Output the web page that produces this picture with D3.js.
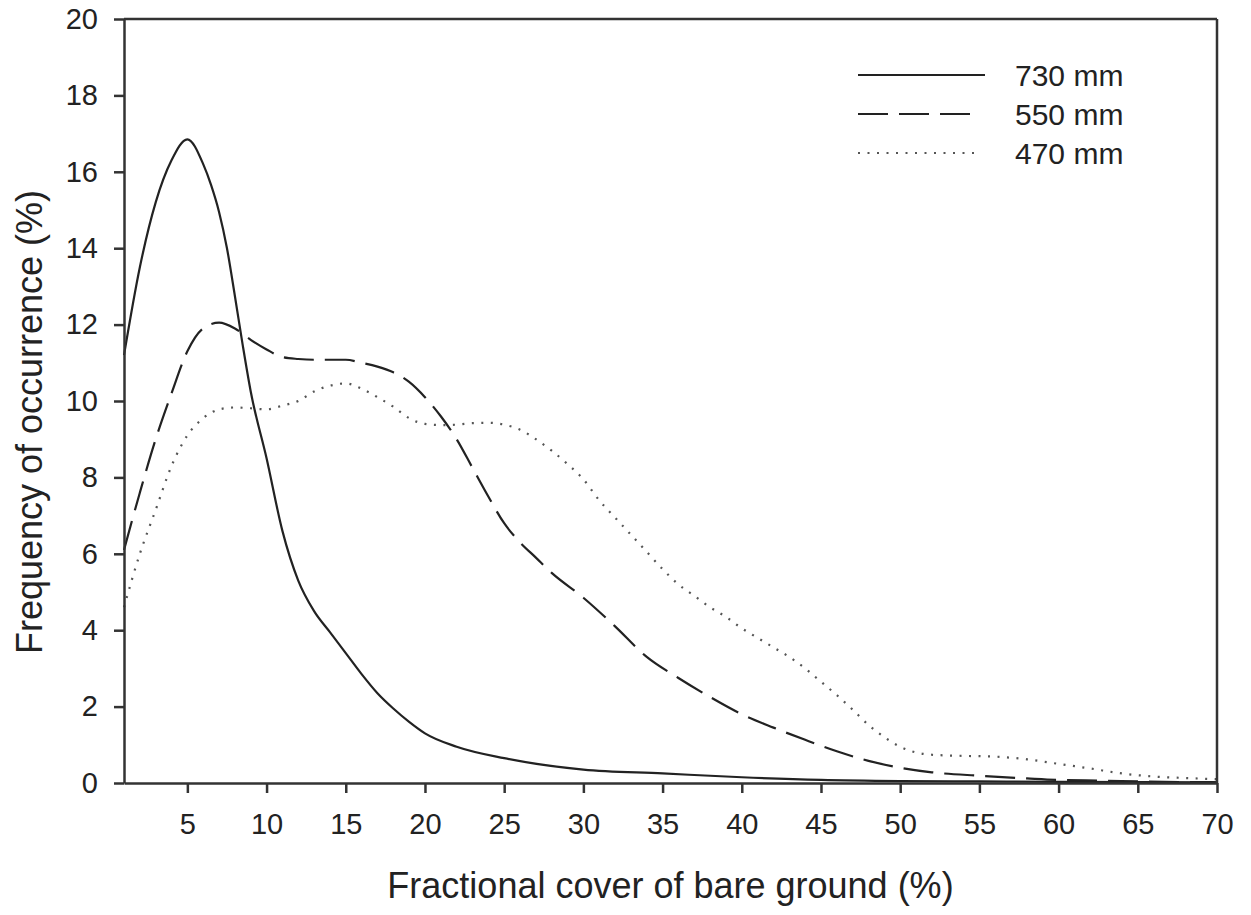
<!DOCTYPE html>
<html>
<head>
<meta charset="utf-8">
<script src="https://cdn.jsdelivr.net/npm/d3@7"></script>
<style>
  body { margin: 0; background: #fff; }
  text { font-family: "Liberation Sans", Arial, sans-serif; fill: #222; }
</style>
</head>
<body>
<script>
let w = 1251;
let h = 915;

let margin = { left: 124, right: 34, top: 19, bottom: 132 };

// bare ground cover (%) and frequency (%)
let x730 = [1, 2, 3, 4, 5, 6, 6.5, 7, 7.5, 8, 8.5, 9, 10, 11, 12, 13, 14, 15, 16, 17, 18, 19, 20, 22, 25, 30, 35, 40, 45, 50, 55, 60, 70];
let y730 = [11.2, 13.5, 15.2, 16.3, 16.85, 16.2, 15.65, 14.95, 14.0, 12.75, 11.45, 10.25, 8.5, 6.6, 5.3, 4.5, 3.95, 3.4, 2.85, 2.35, 1.95, 1.6, 1.3, 0.95, 0.65, 0.35, 0.25, 0.15, 0.08, 0.05, 0.04, 0.03, 0.02];

let x550 = [1, 2, 3, 4, 5, 6, 7, 8, 9, 10, 11, 12, 13, 14, 15, 16, 17, 18, 19, 20, 21, 22, 23, 24, 25, 26, 27, 28, 30, 32, 34, 36, 38, 40, 42, 44, 46, 48, 50, 52, 55, 58, 60, 63, 65, 70];
let y550 = [6.1, 7.6, 9.0, 10.2, 11.3, 11.9, 12.05, 11.9, 11.6, 11.35, 11.15, 11.1, 11.08, 11.08, 11.08, 11.0, 10.9, 10.75, 10.5, 10.1, 9.6, 9.0, 8.25, 7.5, 6.8, 6.3, 5.9, 5.5, 4.85, 4.1, 3.3, 2.75, 2.25, 1.8, 1.45, 1.13, 0.83, 0.58, 0.4, 0.28, 0.19, 0.12, 0.08, 0.06, 0.04, 0.02];

let x470 = [1, 2, 3, 4, 5, 6, 7, 8, 9, 10, 11, 12, 13, 14, 15, 16, 17, 18, 19, 20, 21, 22, 23, 24, 25, 26, 27, 28, 29, 30, 31, 32, 33, 34, 35, 36, 37, 38, 39, 40, 41, 42, 43, 44, 45, 46, 47, 48, 49, 50, 51, 52, 54, 56, 58, 60, 62, 64, 66, 68, 70];
let y470 = [4.6, 6.0, 7.15, 8.3, 9.1, 9.55, 9.78, 9.83, 9.81, 9.78, 9.88, 10.0, 10.25, 10.4, 10.46, 10.32, 10.1, 9.85, 9.55, 9.4, 9.37, 9.38, 9.42, 9.43, 9.38, 9.25, 9.0, 8.7, 8.35, 7.95, 7.4, 6.95, 6.5, 6.05, 5.6, 5.2, 4.9, 4.6, 4.35, 4.05, 3.8, 3.55, 3.3, 3.0, 2.65, 2.3, 1.92, 1.52, 1.2, 0.95, 0.8, 0.74, 0.71, 0.69, 0.62, 0.5, 0.38, 0.25, 0.17, 0.13, 0.1];

let seriesNames = ["730 mm", "550 mm", "470 mm"];
let xTicks = [5, 10, 15, 20, 25, 30, 35, 40, 45, 50, 55, 60, 65, 70];
let yTicks = [0, 2, 4, 6, 8, 10, 12, 14, 16, 18, 20];

let styles = [
  { stroke: "#222", width: 2.2, dash: null },
  { stroke: "#222", width: 2.2, dash: "30,11" },
  { stroke: "#555", width: 2.2, dash: "2,7.5" }
];

let series = [
  x730.map((x, i) => [x, y730[i]]),
  x550.map((x, i) => [x, y550[i]]),
  x470.map((x, i) => [x, y470[i]])
];

let svg = d3.select("body").append("svg").attr("width", w).attr("height", h);

let xScale = d3.scaleLinear().domain([1, 70]).range([margin.left, w - margin.right]);
let yScale = d3.scaleLinear().domain([0, 20]).range([h - margin.bottom, margin.top]);

let line = d3.line()
  .x((d) => xScale(d[0]))
  .y((d) => yScale(d[1]))
  .curve(d3.curveMonotoneX);

svg.selectAll("path.series")
  .data(series)
  .enter()
  .append("path")
  .attr("class", "series")
  .attr("d", line)
  .attr("fill", "none")
  .attr("stroke", (d, i) => styles[i].stroke)
  .attr("stroke-width", (d, i) => styles[i].width)
  .attr("stroke-dasharray", (d, i) => styles[i].dash)
  .attr("stroke-linecap", "butt");

// frame top + right
svg.append("line")
  .attr("x1", xScale(1)).attr("x2", xScale(70))
  .attr("y1", yScale(20)).attr("y2", yScale(20))
  .attr("stroke", "#333").attr("stroke-width", 2.5);
svg.append("line")
  .attr("x1", xScale(70)).attr("x2", xScale(70))
  .attr("y1", yScale(20)).attr("y2", yScale(0))
  .attr("stroke", "#333").attr("stroke-width", 2.5);

let xAxis = svg.append("g")
  .attr("transform", `translate(0,${yScale(0)})`)
  .call(d3.axisBottom(xScale).tickValues(xTicks).tickSize(10).tickSizeOuter(0).tickPadding(20));

let yAxis = svg.append("g")
  .attr("transform", `translate(${xScale(1)},0)`)
  .call(d3.axisLeft(yScale).tickValues(yTicks).tickSize(10).tickSizeOuter(0).tickPadding(16));

[xAxis, yAxis].forEach((g) => {
  g.select(".domain").attr("stroke", "#333").attr("stroke-width", 2.5);
  g.selectAll(".tick line").attr("stroke", "#333").attr("stroke-width", 2.5);
  g.selectAll(".tick text")
    .attr("font-size", 29)
    .attr("font-family", "Liberation Sans, Arial, sans-serif")
    .attr("fill", "#222");
});

svg.append("text")
  .attr("x", (xScale(1) + xScale(70)) / 2)
  .attr("y", 898)
  .attr("text-anchor", "middle")
  .attr("font-size", 36)
  .text("Fractional cover of bare ground (%)");

svg.append("text")
  .attr("transform", `translate(42,422) rotate(-90)`)
  .attr("text-anchor", "middle")
  .attr("font-size", 36)
  .text("Frequency of occurrence (%)");

// legend
let legendY = [75, 114, 153];
let legendEnd = [985, 970, 978];
let legend = svg.selectAll("g.legend")
  .data(seriesNames)
  .enter()
  .append("g")
  .attr("class", "legend");

legend.append("line")
  .attr("x1", 858)
  .attr("x2", (d, i) => legendEnd[i])
  .attr("y1", (d, i) => legendY[i])
  .attr("y2", (d, i) => legendY[i])
  .attr("stroke", (d, i) => styles[i].stroke)
  .attr("stroke-width", (d, i) => styles[i].width)
  .attr("stroke-dasharray", (d, i) => styles[i].dash);

legend.append("text")
  .attr("x", 1015)
  .attr("y", (d, i) => legendY[i])
  .attr("dy", "0.36em")
  .attr("font-size", 30)
  .text((d) => d);
</script>
</body>
</html>
